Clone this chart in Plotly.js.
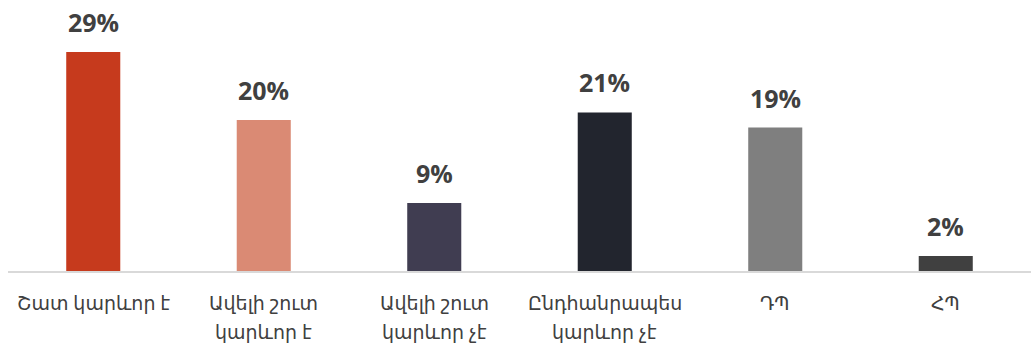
<!DOCTYPE html>
<html><head><meta charset="utf-8">
<script src="https://cdn.plot.ly/plotly-3.0.1.min.js"></script>
<style>html,body{margin:0;padding:0;background:#fff}#chart{width:1031px;height:346px}</style>
</head><body><div id="chart"></div>
<script>
const categories = ["Շատ կարևոր է", "Ավելի շուտ կարևոր է", "Ավելի շուտ կարևոր չէ", "Ընդհանրապես կարևոր չէ", "ԴՊ", "ՀՊ"];
const tickLines = [["Շատ կարևոր է"], ["Ավելի շուտ", "կարևոր է"], ["Ավելի շուտ", "կարևոր չէ"], ["Ընդհանրապես", "կարևոր չէ"], ["ԴՊ"], ["ՀՊ"]];
const values = [29, 20, 9, 21, 19, 2];
const labels = ["29%", "20%", "9%", "21%", "19%", "2%"];
const colors = ["#C63A1D", "#DA8A74", "#403D51", "#22252E", "#7F7F7F", "#404040"];

const trace = {
  type: "bar", x: categories, y: values,
  marker: {color: colors}, width: 0.317, hoverinfo: "none"
};
const annotations = categories.map((c, i) => ({
  x: c, y: values[i], text: "<b>" + labels[i] + "</b>", showarrow: false,
  yanchor: "bottom", yshift: 11,
  font: {family: "Open Sans, DejaVu Sans, sans-serif", size: 25, color: "#404040"}
}));
categories.forEach((c, i) => {
  tickLines[i].forEach((line, j) => {
    annotations.push({
      x: c, xref: "x", y: 0, yref: "paper", text: line, showarrow: false,
      yanchor: "middle", yshift: -32 - 29 * j, borderpad: 0,
      font: {family: "Noto Sans, DejaVu Sans, sans-serif", size: 19, color: "#404040"}
    });
  });
});
Plotly.newPlot("chart", [trace], {
  width: 1031, height: 346,
  margin: {l: 8, r: 0, t: 0, b: 75},
  paper_bgcolor: "#fff", plot_bgcolor: "#fff",
  showlegend: false,
  xaxis: {showline: true, linecolor: "#D9D9D9", linewidth: 2, ticks: "", showticklabels: false, fixedrange: true},
  yaxis: {range: [0, 35.9], visible: false, showgrid: false, zeroline: false, fixedrange: true},
  annotations: annotations
}, {staticPlot: true});
</script></body></html>
